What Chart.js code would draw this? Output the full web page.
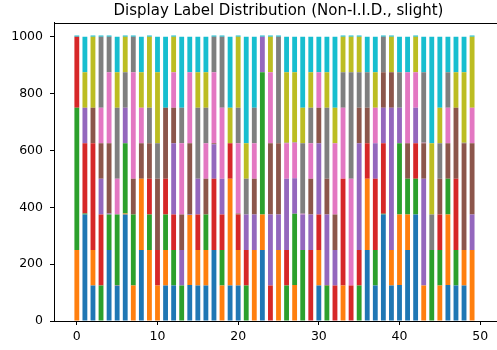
<!DOCTYPE html>
<html>
<head>
<meta charset="utf-8">
<script src="https://cdn.jsdelivr.net/npm/chart.js@4"></script>
<style>
html, body { margin: 0; padding: 0; background: #fff; overflow: hidden; width: 497px; height: 350px; }
canvas { display: block; }
</style>
</head>
<body>
<canvas id="c" width="503" height="350"></canvas>
<script>
// Client indices (x positions)
const clients = [0,1,2,3,4,5,6,7,8,9,10,11,12,13,14,15,16,17,18,19,20,21,22,23,24,25,26,27,28,29,30,31,32,33,34,35,36,37,38,39,40,41,42,43,44,45,46,47,48,49,50];
const xTicks = [0, 10, 20, 30, 40, 50];
const yTicks = [0, 200, 400, 600, 800, 1000];
const seriesNames = ['0','1','2','3','4','5','6','7','8','9'];

// Per-label sample counts for each client
const label0 = [0,375,125,0,250,125,375,0,250,0, 0,125,125,0,127,125,125,250,0,125, 125,0,0,250,0,0,0,0,0,0, 125,0,0,0,0,0,250,125,375,125, 127,250,375,0,0,0,127,125,125,0, 0];
const label1 = [250,0,125,0,0,2,3,125,250,250, 125,125,0,0,246,125,125,0,125,375, 125,0,250,125,0,250,0,127,0,0, 125,0,0,125,0,0,250,0,0,125, 248,125,0,125,0,125,248,0,125,250, 0];
const label2 = [500,3,0,125,125,248,247,250,0,125, 0,125,125,125,0,0,125,0,125,0, 0,125,0,500,0,0,125,250,250,0, 0,125,0,0,0,125,0,125,2,0, 250,125,125,0,250,125,125,125,0,0, 0];
const label3 = [250,247,375,250,0,0,0,0,0,125, 125,125,125,0,0,125,0,250,125,125, 125,125,0,0,125,0,125,0,0,250, 125,2,125,375,125,125,125,250,248,0, 0,0,125,0,0,125,0,250,0,0, 0];
const label4 = [0,125,0,125,3,0,125,0,0,0, 0,0,250,125,2,125,0,122,125,0, 0,125,125,125,250,125,250,125,125,125, 250,248,125,0,0,375,0,125,125,500, 125,0,125,375,0,0,0,0,0,125, 0];
const label5 = [0,0,125,125,247,0,0,125,125,125, 250,250,125,125,250,0,125,3,0,0, 3,0,125,0,250,250,0,0,0,125, 125,125,125,0,0,125,125,0,125,125, 0,125,0,125,0,125,125,250,375,250, 0];
const label6 = [0,0,0,125,250,125,0,375,125,0, 0,0,125,250,250,0,125,250,250,0, 247,0,125,0,250,0,125,125,2,125, 125,0,250,250,375,0,0,125,0,0, 0,250,125,2,0,0,125,0,0,125, 0];
const label7 = [0,0,0,250,125,250,125,125,0,125, 125,0,0,125,0,250,125,125,250,0, 125,125,125,0,0,375,2,2,248,125, 0,250,0,125,375,125,125,0,125,0, 125,0,0,248,125,125,125,0,2,0, 0];
const label8 = [0,125,250,0,0,125,125,0,125,250, 250,0,125,0,0,125,125,0,0,125, 250,125,0,0,125,0,248,246,125,125, 0,125,125,125,125,125,0,125,0,125, 0,0,125,0,250,125,0,125,248,250, 0];
const label9 = [4,125,4,4,4,125,4,4,125,4, 125,250,4,250,125,125,125,4,4,250, 4,375,250,4,4,4,125,125,250,125, 125,125,250,4,4,4,125,125,4,4, 125,125,4,125,375,250,125,125,125,4, 2];

const seriesValues = [label0, label1, label2, label3, label4, label5, label6, label7, label8, label9];
const colors = ['#1f77b4','#ff7f0e','#2ca02c','#d62728','#9467bd','#8c564b','#e377c2','#7f7f7f','#bcbd22','#17becf'];

const FONT = 'DejaVu Sans';

const framePlugin = {
  id: 'frame',
  afterDatasetsDraw(chart) {
    const a = chart.chartArea;
    const ctx = chart.ctx;
    ctx.save();
    ctx.strokeStyle = '#000';
    ctx.lineWidth = 1;
    ctx.beginPath();
    const t = Math.round(a.top) + 0.5;
    ctx.moveTo(Math.round(a.left), t);
    ctx.lineTo(Math.round(a.right) + 1, t);
    ctx.moveTo(Math.round(a.right) + 0.5, t);
    ctx.lineTo(Math.round(a.right) + 0.5, Math.round(a.bottom));
    ctx.stroke();
    ctx.restore();
  }
};

new Chart(document.getElementById('c'), {
  type: 'bar',
  data: {
    labels: clients,
    datasets: seriesValues.map((vals, k) => ({
      label: seriesNames[k],
      data: vals.map((v, i) => ({ x: clients[i], y: v })),
      backgroundColor: colors[k],
      borderWidth: 0,
      categoryPercentage: 1.0,
      barPercentage: 0.6
    }))
  },
  options: {
    responsive: false,
    animation: false,
    devicePixelRatio: 1,
    layout: { padding: 0 },
    plugins: {
      legend: { display: false },
      tooltip: { enabled: false },
      title: {
        display: true,
        text: 'Display Label Distribution (Non-I.I.D., slight)',
        fullSize: false,
        color: '#000',
        font: { family: FONT, size: 15, weight: 'normal' },
        padding: { top: 2, bottom: 2.5 }
      }
    },
    scales: {
      x: {
        type: 'linear',
        stacked: true,
        offset: false,
        min: -2.83,
        max: 52.83,
        grid: { display: true, offset: false, drawOnChartArea: false, drawTicks: true, tickLength: 4, color: '#000', lineWidth: 1 },
        border: { display: true, color: '#000', width: 1 },
        ticks: { color: '#000', font: { family: FONT, size: 12.5 }, padding: 4, maxRotation: 0, autoSkip: false, callback: v => String(v) },
        afterBuildTicks: s => { s.ticks = xTicks.map(v => ({ value: v })); },
        afterFit: s => { s.height = 29; }
      },
      y: {
        type: 'linear',
        stacked: true,
        min: 0,
        max: 1050,
        grid: { display: true, offset: false, drawOnChartArea: false, drawTicks: true, tickLength: 4, color: '#000', lineWidth: 1 },
        border: { display: true, color: '#000', width: 1 },
        ticks: { color: '#000', font: { family: FONT, size: 12.5 }, padding: 7, autoSkip: false, callback: v => String(v) },
        afterBuildTicks: s => { s.ticks = yTicks.map(v => ({ value: v })); },
        afterFit: s => { s.width = 54; }
      }
    }
  },
  plugins: [framePlugin]
});
</script>
</body>
</html>
